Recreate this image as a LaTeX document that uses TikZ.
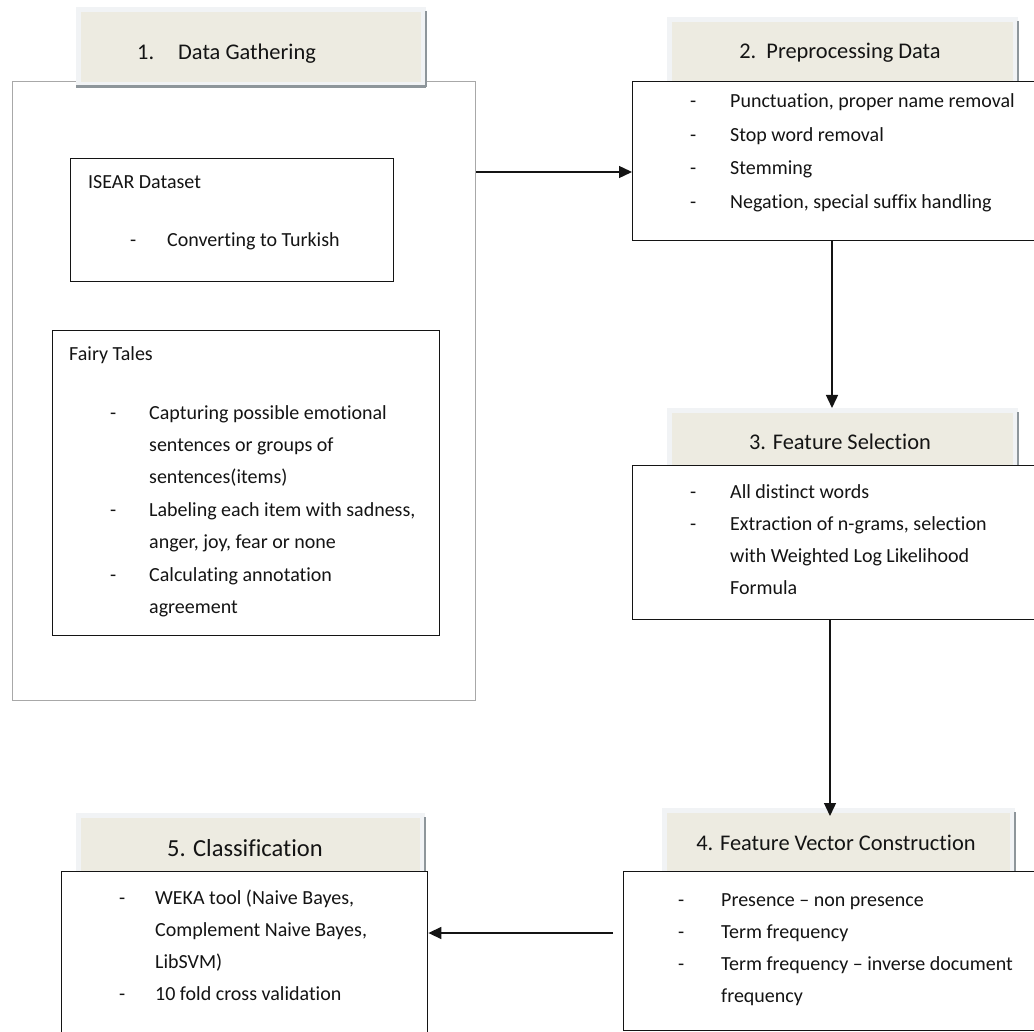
\documentclass[tikz,border=0pt]{standalone}
\usepackage{fontspec}
\setmainfont{Carlito}[Ligatures={NoCommon}]
\usetikzlibrary{arrows.meta}
\definecolor{hdr}{HTML}{EDEBE1}
\definecolor{glow}{HTML}{F1F3F5}
\definecolor{shd}{HTML}{8E969B}
\definecolor{ink}{HTML}{141414}
\definecolor{outerc}{HTML}{A8A8A8}
\begin{document}
\begin{tikzpicture}[x=1pt,y=-1pt,
  bodybox/.style={draw=ink, line width=1.4pt, fill=white, anchor=north west, inner sep=0pt, rectangle},
  hdrbox/.style={fill=hdr, draw=glow, line width=5pt, anchor=north west, inner sep=0pt, rectangle},
  txt/.style={anchor=base west, inner sep=0pt, text=ink, font=\fontsize{20}{32}\selectfont},
  htxt/.style={anchor=base, inner sep=0pt, text=ink, font=\fontsize{22.4}{27}\selectfont},
  arr/.style={draw=ink, line width=1.4pt, -{Triangle[length=13pt,width=12pt]}}]
\useasboundingbox (0,0) rectangle (1034,1032);
\clip (0,0) rectangle (1034,1032);
\fill[white] (0,0) rectangle (1034,1032);

% ---------- 1. Data Gathering ----------
\node[draw=outerc, line width=1.2pt, anchor=north west, minimum width=463pt, minimum height=619pt, inner sep=0pt] (ob) at (12,81) {};
\node[hdrbox, minimum width=345pt, minimum height=75pt] (h1) at (76,7) {};
\draw[shd, line width=1.5pt] ([yshift=-4pt]h1.north east) -- (h1.south east);
\draw[shd, line width=3pt] (h1.south west) -- (h1.south east);
\node[htxt, anchor=base west] (h1n) at (137,60) {1.};
\node[htxt, anchor=base west] (h1t) at (178,60) {Data Gathering};

\node[bodybox, minimum width=323pt, minimum height=123pt] (isear) at (70,158) {};
\node[txt] (isearT) at (88,189) {ISEAR Dataset};
\node[txt] (isearL) at (130,247) {\begin{tabular}[t]{@{}p{37pt}@{}l@{}}- & Converting to Turkish\end{tabular}};

\node[bodybox, minimum width=387pt, minimum height=305pt] (fairy) at (52,330) {};
\node[txt] (fairyT) at (69,361) {Fairy Tales};
\node[txt, font=\fontsize{20}{32.5}\selectfont] (fairyL) at (110,419) {\begin{tabular}[t]{@{}p{39pt}@{}l@{}}
- & Capturing possible emotional\\
  & sentences or groups of\\
  & sentences(items)\\
- & Labeling each item with sadness,\\
  & anger, joy, fear or none\\
- & Calculating annotation\\
  & agreement\end{tabular}};

% ---------- 2. Preprocessing Data ----------
\node[hdrbox, minimum width=346pt, minimum height=64pt] (h2) at (667,17) {};
\draw[shd, line width=1.5pt] ([yshift=-4pt]h2.north east) -- (h2.south east);
\node[bodybox, minimum width=420pt, minimum height=159pt] (b2) at (632,81) {};
\node[htxt] (h2t) at (840,59) {2.\ \ Preprocessing Data};
\node[txt, font=\fontsize{20}{33.5}\selectfont] (b2L) at (690,108) {\begin{tabular}[t]{@{}p{40pt}@{}l@{}}
- & Punctuation, proper name removal\\
- & Stop word removal\\
- & Stemming\\
- & Negation, special suffix handling\end{tabular}};

% ---------- 3. Feature Selection ----------
\node[hdrbox, minimum width=346pt, minimum height=57pt] (h3) at (667,408) {};
\draw[shd, line width=1.5pt] ([yshift=-4pt]h3.north east) -- (h3.south east);
\node[bodybox, minimum width=420pt, minimum height=154pt] (b3) at (632,465) {};
\node[htxt] (h3t) at (840,449) {3. Feature Selection};
\node[txt] (b3L) at (690,498) {\begin{tabular}[t]{@{}p{40pt}@{}l@{}}
- & All distinct words\\
- & Extraction of n-grams, selection\\
  & with Weighted Log Likelihood\\
  & Formula\end{tabular}};

% ---------- 4. Feature Vector Construction ----------
\node[hdrbox, minimum width=348pt, minimum height=63pt] (h4) at (662,808) {};
\draw[shd, line width=1.5pt] ([yshift=-4pt]h4.north east) -- (h4.south east);
\node[bodybox, minimum width=430pt, minimum height=159pt] (b4) at (623,871) {};
\node[htxt] (h4t) at (836,850) {4. Feature Vector Construction};
\node[txt] (b4L) at (678,906) {\begin{tabular}[t]{@{}p{43pt}@{}l@{}}
- & Presence – non presence\\
- & Term frequency\\
- & Term frequency – inverse document\\
  & frequency\end{tabular}};

% ---------- 5. Classification ----------
\node[hdrbox, minimum width=344pt, minimum height=58pt] (h5) at (76,813) {};
\draw[shd, line width=1.5pt] ([yshift=-4pt]h5.north east) -- (h5.south east);
\node[bodybox, minimum width=366pt, minimum height=180pt] (b5) at (61,871) {};
\node[htxt, font=\fontsize{24.5}{29}\selectfont] (h5t) at (245,856) {5. Classification};
\node[txt] (b5L) at (119,904) {\begin{tabular}[t]{@{}p{36pt}@{}l@{}}
- & WEKA tool (Naive Bayes,\\
  & Complement Naive Bayes,\\
  & LibSVM)\\
- & 10 fold cross validation\end{tabular}};

% ---------- connectors ----------
\coordinate (y172) at (0,172);
\coordinate (x832) at (832,0);
\coordinate (x830) at (830,0);
\coordinate (y933) at (0,933);
\draw[arr] (ob.east |- y172) -- (b2.west |- y172);
\draw[arr] (x832 |- b2.south) -- (x832 |- h3.north);
\draw[arr, shorten >=-8pt] (x830 |- b3.south) -- (x830 |- h4.north);
\draw[arr, shorten <=10pt] (b4.west |- y933) -- (b5.east |- y933);
\end{tikzpicture}
\end{document}
